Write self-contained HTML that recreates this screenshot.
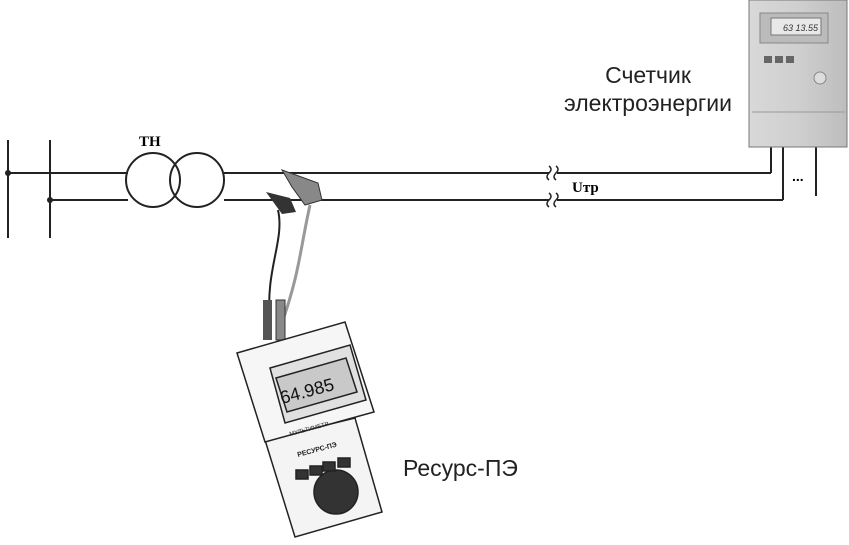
<!DOCTYPE html>
<html><head><meta charset="utf-8"><style>
body{margin:0;background:#fff;width:849px;height:545px;overflow:hidden}
svg{display:block}
text{font-family:"Liberation Sans",sans-serif}
</style></head><body>
<svg width="849" height="545" viewBox="0 0 849 545" xmlns="http://www.w3.org/2000/svg">
<defs>
<linearGradient id="mg" x1="0" y1="0" x2="1" y2="0"><stop offset="0" stop-color="#d8d8d8"/><stop offset="0.5" stop-color="#cfcfcf"/><stop offset="1" stop-color="#bdbdbd"/></linearGradient>
</defs>
<g stroke="#222" stroke-width="2" fill="none">
<line x1="8" y1="140" x2="8" y2="238"/>
<line x1="50" y1="140" x2="50" y2="238"/>
<line x1="8" y1="173" x2="128" y2="173"/>
<line x1="50" y1="200" x2="128" y2="200"/>
<circle cx="153" cy="180" r="27"/>
<circle cx="197" cy="180" r="27"/>
<line x1="224" y1="173" x2="549" y2="173"/>
<line x1="557" y1="173" x2="771" y2="173"/>
<line x1="771" y1="173" x2="771" y2="146"/>
<line x1="224" y1="200" x2="549" y2="200"/>
<line x1="557" y1="200" x2="783" y2="200"/>
<line x1="783" y1="200" x2="783" y2="146"/>
<line x1="816" y1="146" x2="816" y2="196"/>
<path d="M549 166 q4 3 0 7 q-4 4 0 7 M556 166 q4 3 0 7 q-4 4 0 7" stroke-width="1.5"/>
<path d="M549 193 q4 3 0 7 q-4 4 0 7 M556 193 q4 3 0 7 q-4 4 0 7" stroke-width="1.5"/>
</g>
<circle cx="8" cy="173" r="3" fill="#222"/>
<circle cx="50" cy="200" r="3" fill="#222"/>
<text x="139" y="146" font-weight="bold" font-size="15" style="font-family:'Liberation Serif',serif">TH</text>
<text x="572" y="192" font-weight="bold" font-size="15" style="font-family:'Liberation Serif',serif">Uтр</text>
<text x="792" y="181" font-size="14" font-weight="bold">...</text>
<text x="648" y="83" font-size="23" text-anchor="middle" fill="#222">Счетчик</text>
<text x="648" y="111" font-size="23" text-anchor="middle" fill="#222">электроэнергии</text>
<text x="403" y="476" font-size="23" fill="#222">Ресурс-ПЭ</text>
<rect x="749" y="0" width="98" height="147" fill="url(#mg)" stroke="#777"/>
<rect x="760" y="13" width="68" height="30" fill="#bbb" stroke="#888"/>
<rect x="771" y="18" width="50" height="17" fill="#e8e8e8" stroke="#777"/>
<text x="783" y="31" font-size="9" font-style="italic" fill="#333">63 13.55</text>
<rect x="764" y="56" width="8" height="7" fill="#666"/><rect x="775" y="56" width="8" height="7" fill="#666"/><rect x="786" y="56" width="8" height="7" fill="#666"/>
<circle cx="820" cy="78" r="6" fill="#ddd" stroke="#888"/>
<line x1="752" y1="112" x2="845" y2="112" stroke="#999"/>
<g stroke="#222" fill="none" stroke-width="2">
<path d="M278 210 C285 240 265 270 270 320"/>
<path d="M310 205 C300 250 300 270 283 320" stroke="#999" stroke-width="3"/>
</g>
<path d="M266 192 L290 198 L296 212 L282 214 Z" fill="#333"/>
<path d="M282 170 L318 183 L322 200 L305 205 L292 187 Z" fill="#888" stroke="#333"/>
<rect x="263" y="300" width="9" height="40" fill="#555"/>
<rect x="276" y="300" width="9" height="40" fill="#888" stroke="#333"/>
<g stroke="#222" stroke-width="1.5">
<path d="M265 440 L355 418 L382 512 L295 537 Z" fill="#f4f4f4"/>
<path d="M237 353 L345 322 L374 412 L265 442 Z" fill="#f6f6f6"/>
<path d="M270 368 L350 345 L366 400 L285 423 Z" fill="#e0e0e0"/>
<path d="M276 378 L346 358 L357 392 L287 412 Z" fill="#c9c9c9"/>
<circle cx="336" cy="492" r="22" fill="#333"/>
<rect x="296" y="470" width="12" height="9" fill="#333"/>
<rect x="310" y="466" width="12" height="9" fill="#333"/>
<rect x="323" y="462" width="12" height="9" fill="#333"/>
<rect x="338" y="458" width="12" height="9" fill="#333"/>
</g>
<text x="282" y="404" font-size="18" fill="#111" transform="rotate(-15 282 404)">64.985</text>
<text x="290" y="436" font-size="6" fill="#222" transform="rotate(-15 290 436)">МУЛЬТИМЕТР</text>
<text x="298" y="457" font-size="7" font-weight="bold" fill="#222" transform="rotate(-15 298 457)">РЕСУРС-ПЭ</text>
</svg>
</body></html>
